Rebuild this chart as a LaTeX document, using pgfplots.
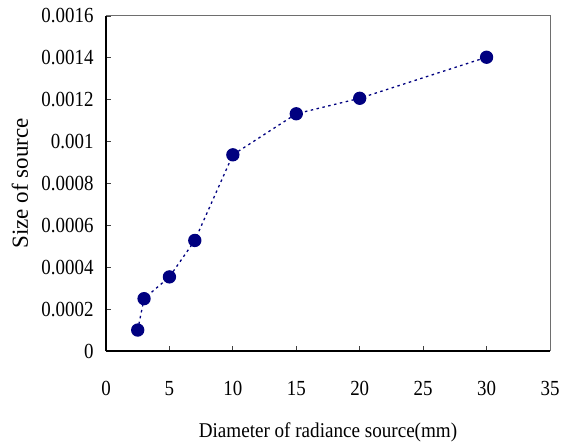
\documentclass[border=0pt]{standalone}
\usepackage{fontspec}
\setmainfont{Liberation Serif}[FakeStretch=0.88]
\newfontfamily\ylfont{Liberation Serif}
\newfontfamily\xlfont{Liberation Serif}[FakeStretch=0.91]
\usepackage{pgfplots}
\pgfplotsset{compat=1.18}
\definecolor{navypt}{HTML}{000080}
\definecolor{framegrey}{HTML}{6E6E6E}

\begin{document}
\begin{tikzpicture}
\useasboundingbox (-106bp,-94bp) rectangle (456bp,351bp);
\begin{axis}[
    scale only axis,
    width=444bp,
    height=335bp,
    xmin=0, xmax=35,
    ymin=0, ymax=0.0016,
    xtick={0,5,...,35},
    ytick={0,0.0002,...,0.0016},
    yticklabels={0,0.0002,0.0004,0.0006,0.0008,0.001,0.0012,0.0014,0.0016},
    scaled y ticks=false,
    axis x line*=bottom,
    axis y line*=left,
    axis line style={black, line width=1.6bp},
    tick align=inside,
    major tick length=5bp,
    tick style={black!75, line width=0.8bp},
    /pgf/number format/assume math mode=true,
    tick label style={font=\fontsize{21.5bp}{24bp}\selectfont},
    yticklabel style={xshift=-9bp},
    xticklabel style={yshift=-27bp},
    xlabel={\xlfont Diameter of radiance source(mm)},
    ylabel={\ylfont Size of source},
    xlabel style={at={([yshift=-81bp]axis description cs:0.5,0)}, anchor=center,
                  font=\fontsize{21bp}{24bp}\selectfont},
    ylabel style={at={([xshift=-86bp]axis description cs:0,0.5)}, anchor=center,
                  font=\fontsize{23bp}{26bp}\selectfont},
    clip=false,
]
\draw[framegrey, line width=1bp] (axis description cs:0,1) -- (axis description cs:1,1) -- (axis description cs:1,0);
\addplot[navypt, line width=1.3bp, dash pattern=on 2.5bp off 3.5bp,
         mark=*, mark size=6bp, mark options={solid, fill=navypt, draw=navypt}]
    coordinates {
    (2.5,0.000100)
    (3,0.000250)
    (5,0.000354)
    (7,0.000528)
    (10,0.000937)
    (15,0.001133)
    (20,0.001207)
    (30,0.001403)
};
\end{axis}
\end{tikzpicture}
\end{document}
